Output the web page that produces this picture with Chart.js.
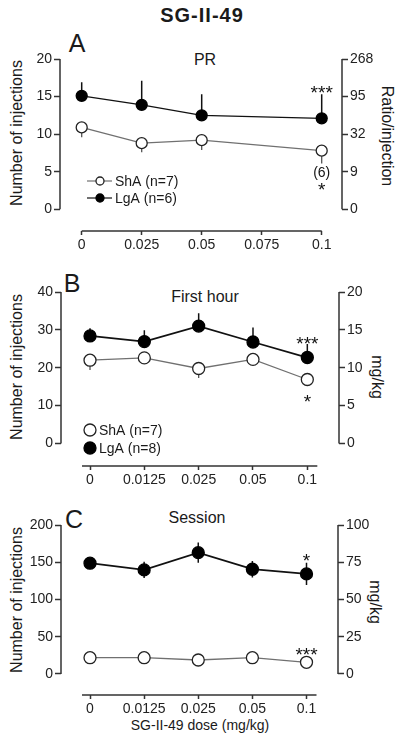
<!DOCTYPE html>
<html>
<head>
<meta charset="utf-8">
<script src="https://cdn.jsdelivr.net/npm/chart.js@4.4.1/dist/chart.umd.min.js"></script>
<style>
  body { margin: 0; background: #fff; width: 400px; height: 745px; position: relative; overflow: hidden;
         font-family: "Liberation Sans", Arial, sans-serif; color: #1a1a1a; }
  canvas { position: absolute; left: 0; }
  .t { position: absolute; white-space: nowrap; transform: translate(-50%, -50%); line-height: 1; }
  .rl { transform: translate(-50%, -50%) rotate(-90deg); }
  .rr { transform: translate(-50%, -50%) rotate(90deg); }
</style>
</head>
<body>
<div class="t" style="left:202px;top:15px;font-weight:bold;font-size:20px;letter-spacing:1px">SG-II-49</div>

<div class="t" style="left:77px;top:43px;font-size:25px">A</div>
<div class="t" style="left:205px;top:60px;font-size:16px">PR</div>
<div class="t rl" style="left:17px;top:133px;font-size:16px">Number of injections</div>
<div class="t rr" style="left:387px;top:136px;font-size:16px">Ratio/injection</div>

<div class="t" style="left:72px;top:283px;font-size:25px">B</div>
<div class="t" style="left:205px;top:297px;font-size:16px">First hour</div>
<div class="t rl" style="left:17px;top:367px;font-size:16px">Number of injections</div>
<div class="t rr" style="left:377px;top:377px;font-size:16px">mg/kg</div>

<div class="t" style="left:74px;top:519px;font-size:25px">C</div>
<div class="t" style="left:197px;top:518px;font-size:16px">Session</div>
<div class="t rl" style="left:17px;top:600px;font-size:16px">Number of injections</div>
<div class="t rr" style="left:375px;top:602px;font-size:16px">mg/kg</div>
<div class="t" style="left:200px;top:725px;font-size:14px">SG-II-49 dose (mg/kg)</div>

<canvas id="chartA" width="400" height="230" style="top:30px"></canvas>
<canvas id="chartB" width="400" height="230" style="top:260px"></canvas>
<canvas id="chartC" width="400" height="255" style="top:490px"></canvas>

<script>
// ---- data ----
const legendA = ['ShA (n=7)', 'LgA (n=6)'];
const legendBC = ['ShA (n=7)', 'LgA (n=8)'];

// panel A: PR
const dosesA = [0, 0.025, 0.05, 0.1];
const xTicksA = [0, 0.025, 0.05, 0.075, 0.1];
const xLabelsA = ['0', '0.025', '0.05', '0.075', '0.1'];
const shaA = [10.9, 8.8, 9.2, 7.8];
const shaErrA = [1.3, 1.2, 1.3, 1.7];
const lgaA = [15.1, 13.9, 12.5, 12.1];
const lgaErrA = [1.8, 3.2, 2.8, 3.2];
const yTicksA = [0, 5, 10, 15, 20];
const y2LabelsA = ['0', '9', '32', '95', '268'];

// panels B and C share the dose categories
const dosesBC = ['0', '0.0125', '0.025', '0.05', '0.1'];

// panel B: first hour
const shaB = [22.0, 22.6, 19.8, 22.2, 16.9];
const shaErrB = [2.6, 1.2, 2.5, 1.0, 1.0];
const lgaB = [28.4, 26.9, 31.0, 26.8, 22.7];
const lgaErrB = [2.0, 3.0, 3.4, 3.8, 3.6];
const yTicksB = [0, 10, 20, 30, 40];
const y2LabelsB = ['0', '5', '10', '15', '20'];

// panel C: session
const shaC = [21.8, 21.8, 18.7, 21.8, 15.6];
const shaErrC = [2, 2, 2, 2, 2];
const lgaC = [148.7, 139.7, 162.9, 140.6, 134.3];
const lgaErrC = [5, 11, 13.5, 11, 15];
const yTicksC = [0, 50, 100, 150, 200];
const y2LabelsC = ['0', '25', '50', '75', '100'];

const FONT = '"Liberation Sans", Arial, sans-serif';
const AXIS = '#333';

// axis spines, error bars, notes and legend
const decor = {
  id: 'decor',
  beforeDatasetsDraw(chart) {
    const o = chart.options.plugins.decor;
    const ctx = chart.ctx, x = chart.scales.x, y = chart.scales.y;
    const a = chart.chartArea;
    const yt = y.ticks;
    ctx.save();
    ctx.strokeStyle = AXIS;
    ctx.lineWidth = 1.5;
    ctx.beginPath();
    const y0 = y.getPixelForValue(yt[0].value), y1 = y.getPixelForValue(yt[yt.length - 1].value);
    ctx.moveTo(a.left, y0); ctx.lineTo(a.left, y1);
    ctx.moveTo(a.right, y0); ctx.lineTo(a.right, y1);
    const xt = x.ticks;
    ctx.moveTo(x.getPixelForValue(xt[0].value) - o.xExt[0], a.bottom);
    ctx.lineTo(x.getPixelForValue(xt[xt.length - 1].value) + o.xExt[1], a.bottom);
    ctx.stroke();

    chart.data.datasets.forEach((ds, di) => {
      const meta = chart.getDatasetMeta(di);
      ctx.strokeStyle = ds.errColor;
      ctx.lineWidth = ds.errWidth;
      ctx.beginPath();
      ds.data.forEach((d, i) => {
        const px = meta.data[i].x;
        const e = ds.err[i];
        const top = ds.errDir === 'down' ? d.y : d.y + e;
        const bot = ds.errDir === 'up' ? d.y : d.y - e;
        ctx.moveTo(px, y.getPixelForValue(top));
        ctx.lineTo(px, y.getPixelForValue(bot));
      });
      ctx.stroke();
    });
    ctx.restore();
  },
  afterDatasetsDraw(chart) {
    const o = chart.options.plugins.decor;
    const ctx = chart.ctx;
    ctx.save();
    ctx.fillStyle = '#111';
    ctx.textAlign = 'center';
    (o.notes || []).forEach(n => {
      const pt = chart.getDatasetMeta(n.ds).data[n.i];
      if (n.text.indexOf('*') === 0) {
        ctx.font = '19px ' + FONT;
        ctx.textBaseline = 'alphabetic';
        ctx.fillText(n.text, pt.x, pt.y + n.dy + 11);
      } else {
        ctx.font = '14px ' + FONT;
        ctx.textBaseline = 'middle';
        ctx.fillText(n.text, pt.x, pt.y + n.dy);
      }
    });

    const lg = o.legend;
    ctx.textAlign = 'left';
    ctx.textBaseline = 'middle';
    ctx.font = '14px ' + FONT;
    chart.data.datasets.forEach((ds, di) => {
      const cy = lg.y + di * lg.gap;
      if (lg.line) {
        ctx.strokeStyle = ds.borderColor;
        ctx.lineWidth = 1.2;
        ctx.beginPath();
        ctx.moveTo(lg.x - 13, cy); ctx.lineTo(lg.x + 12, cy);
        ctx.stroke();
      }
      ctx.beginPath();
      ctx.arc(lg.x, cy, lg.r, 0, Math.PI * 2);
      ctx.fillStyle = ds.pointBackgroundColor;
      ctx.fill();
      ctx.strokeStyle = ds.pointBorderColor;
      ctx.lineWidth = 1.3;
      ctx.stroke();
      ctx.fillStyle = '#1a1a1a';
      ctx.fillText(ds.label, lg.textX, cy + 1);
    });
    ctx.restore();
  }
};

function makeChart(id, p) {
  const tickFont = { family: FONT, size: 14 };
  const datasets = [
    {
      label: p.legend[0],
      data: p.xs.map((x, i) => ({ x: x, y: p.sha[i] })),
      err: p.shaErr, errDir: p.shaDir, errColor: '#555', errWidth: 1.3,
      borderColor: '#707070', borderWidth: 1.3,
      pointRadius: p.r, pointBackgroundColor: '#fff', pointBorderColor: '#222', pointBorderWidth: 1.3
    },
    {
      label: p.legend[1],
      data: p.xs.map((x, i) => ({ x: x, y: p.lga[i] })),
      err: p.lgaErr, errDir: p.lgaDir, errColor: '#111', errWidth: 1.5,
      borderColor: '#111', borderWidth: p.lgaWidth,
      pointRadius: p.r, pointBackgroundColor: '#000', pointBorderColor: '#000', pointBorderWidth: 1.3
    }
  ];
  const yScale = (pos, labels) => ({
    position: pos,
    min: p.yMin, max: p.yTicks[p.yTicks.length - 1],
    afterBuildTicks: s => { s.ticks = p.yTicks.map(v => ({ value: v })); },
    afterFit: s => { s.width = 40; },
    ticks: { callback: (v, i) => labels[i], autoSkip: false, padding: 2, font: tickFont, color: '#222' },
    grid: { drawOnChartArea: false, tickLength: 6, tickColor: AXIS, tickWidth: 1.5 },
    border: { display: false }
  });
  return new Chart(document.getElementById(id), {
    type: 'line',
    data: { datasets: datasets },
    options: {
      responsive: false,
      animation: false,
      events: [],
      layout: { padding: p.pad },
      plugins: {
        legend: { display: false },
        tooltip: { enabled: false },
        decor: { xExt: p.xExt, notes: p.notes, legend: p.legendBox }
      },
      scales: {
        x: {
          type: 'linear',
          min: p.xMin, max: p.xMax,
          afterBuildTicks: s => { s.ticks = p.xTicks.map(v => ({ value: v })); },
          afterFit: s => { s.height = 22; },
          ticks: { callback: (v, i) => p.xLabels[i], autoSkip: false, maxRotation: 0, padding: 2, font: tickFont, color: '#222' },
          grid: { drawOnChartArea: false, tickLength: 4, tickColor: AXIS, tickWidth: 1.5 },
          border: { display: false }
        },
        y: yScale('left', p.yTicks.map(String)),
        y2: yScale('right', p.y2Labels)
      }
    },
    plugins: [decor]
  });
}

makeChart('chartA', {
  legend: legendA, xs: dosesA, sha: shaA, shaErr: shaErrA, lga: lgaA, lgaErr: lgaErrA,
  shaDir: 'down', lgaDir: 'up', lgaWidth: 1.4, r: 5.5,
  xTicks: xTicksA, xLabels: xLabelsA, xMin: -0.00904, xMax: 0.10846, xExt: [0, 0],
  yTicks: yTicksA, y2Labels: y2LabelsA, yMin: -2.89,
  pad: { left: 20, right: 18, top: 29, bottom: 7 },
  notes: [{ ds: 1, i: 3, text: '***', dy: -30 }, { ds: 0, i: 3, text: '(6)', dy: 22 }, { ds: 0, i: 3, text: '*', dy: 34 }],
  legendBox: { x: 100, y: 151, gap: 17, r: 4, line: true, textX: 115 }
});

const idx = dosesBC.map((d, i) => i);

makeChart('chartB', {
  legend: legendBC, xs: idx, sha: shaB, shaErr: shaErrB, lga: lgaB, lgaErr: lgaErrB,
  shaDir: 'down', lgaDir: 'up', lgaWidth: 1.8, r: 6,
  xTicks: idx, xLabels: dosesBC, xMin: -0.534, xMax: 4.583, xExt: [8, 10],
  yTicks: yTicksB, y2Labels: y2LabelsB, yMin: -5.94,
  pad: { left: 21, right: 21, top: 32, bottom: 2 },
  notes: [{ ds: 1, i: 4, text: '***', dy: -19 }, { ds: 0, i: 4, text: '*', dy: 18 }],
  legendBox: { x: 90, y: 170, gap: 18, r: 6, line: false, textX: 99 }
});

makeChart('chartC', {
  legend: legendBC, xs: idx, sha: shaC, shaErr: shaErrC, lga: lgaC, lgaErr: lgaErrC,
  shaDir: 'both', lgaDir: 'both', lgaWidth: 1.8, r: 6,
  xTicks: idx, xLabels: dosesBC, xMin: -0.536, xMax: 4.582, xExt: [8, 10],
  yTicks: yTicksC, y2Labels: y2LabelsC, yMin: -28.3,
  pad: { left: 21, right: 22, top: 35, bottom: 28 },
  notes: [{ ds: 1, i: 4, text: '*', dy: -17.5 }, { ds: 0, i: 4, text: '***', dy: -12 }],
  legendBox: { x: -50, y: -50, gap: 0, r: 0, line: false, textX: -50 }
});
</script>
</body>
</html>
